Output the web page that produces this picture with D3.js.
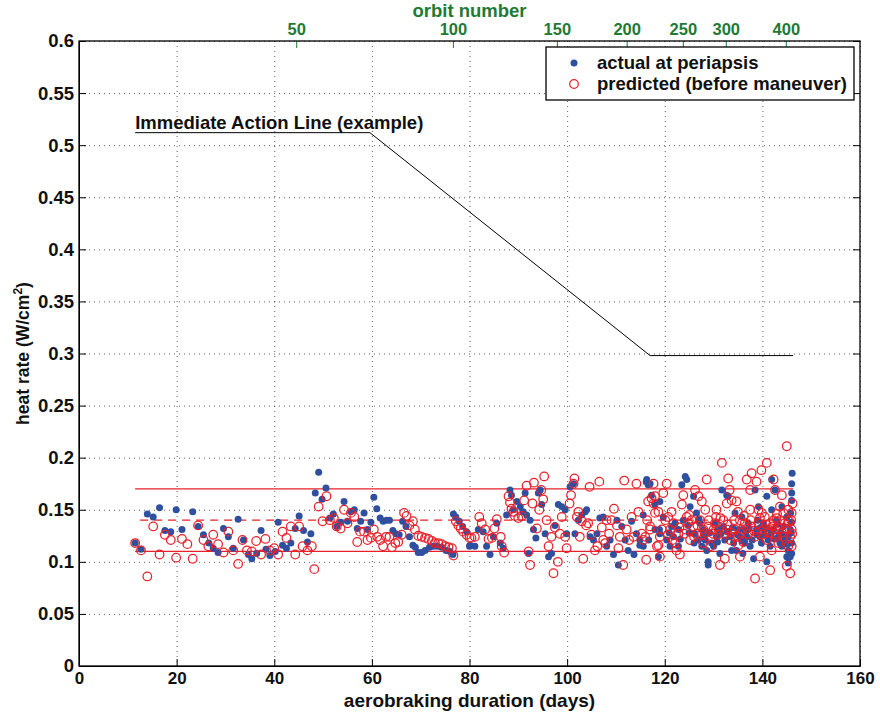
<!DOCTYPE html>
<html>
<head>
<meta charset="utf-8">
<script src="https://cdn.jsdelivr.net/npm/d3@7"></script>
<style>
  html, body { margin: 0; padding: 0; background: #fff; }
  svg text { font-family: "Liberation Sans", Arial, Helvetica, sans-serif; font-weight: bold; }
</style>
</head>
<body>
<svg id="chart" width="880" height="715"></svg>
<script>
// ---------------- DATA ----------------
const xTicks = [0, 20, 40, 60, 80, 100, 120, 140, 160];
const yTicks = [0, 0.05, 0.1, 0.15, 0.2, 0.25, 0.3, 0.35, 0.4, 0.45, 0.5, 0.55, 0.6];
const orbitLabels = ["50", "100", "150", "200", "250", "300", "400"];
const orbitDays = [44.5, 76.6, 97.9, 112.2, 123.7, 132.5, 144.8];

// Immediate action line (example): [day, heat rate]
const actionLine = [[11.5, 0.512], [59.6, 0.512], [117.0, 0.298], [146.3, 0.298]];
// Red reference corridor lines
const corridorStart = 11.5, corridorEnd = 146.3;
const corridorUpper = 0.17, corridorMid = 0.14, corridorLower = 0.11;

// actual at periapsis: [day, heat rate]
const actual = [
 [11.5,0.118],[12.7,0.112],[14.0,0.146],[15.2,0.143],[16.5,0.152],[17.6,0.130],[18.8,0.129],[19.9,0.150],
 [21.1,0.131],[23.3,0.148],[24.4,0.134],[25.5,0.126],[26.6,0.118],[27.5,0.113],[28.5,0.109],[29.6,0.132],
 [30.6,0.124],[31.6,0.113],[32.6,0.141],[33.7,0.121],[34.7,0.107],[35.4,0.103],[36.4,0.108],[37.3,0.130],
 [38.3,0.112],[39.1,0.106],[40.2,0.110],[40.8,0.138],[41.7,0.116],[42.5,0.113],[43.4,0.118],[44.3,0.132],
 [45.1,0.144],[46.0,0.130],[46.8,0.119],[47.5,0.127],[48.4,0.166],[49.1,0.186],[49.8,0.160],[50.6,0.171],
 [51.4,0.142],[52.1,0.146],[52.8,0.134],[53.6,0.138],[54.3,0.158],[55.0,0.139],[55.7,0.148],[56.4,0.150],
 [57.0,0.132],[57.7,0.139],[58.4,0.147],[59.1,0.131],[59.8,0.138],[60.4,0.162],[61.0,0.151],[61.7,0.142],
 [62.3,0.139],[63.0,0.140],[63.6,0.140],[64.3,0.130],[64.9,0.127],[65.6,0.126],[66.3,0.139],[67.0,0.134],
 [67.7,0.124],[68.4,0.116],[68.9,0.114],[69.5,0.109],[70.2,0.109],[70.9,0.111],[71.8,0.114],[72.6,0.115],
 [73.4,0.115],[74.3,0.114],[75.2,0.111],[76.0,0.110],[76.6,0.107],[76.7,0.146],[77.2,0.143],[77.9,0.139],
 [78.6,0.134],[79.4,0.129],[80.0,0.115],[80.1,0.116],[81.1,0.115],[81.8,0.131],[82.8,0.129],[83.5,0.115],
 [84.2,0.107],[84.9,0.124],[85.6,0.137],[86.3,0.118],[86.9,0.113],[87.6,0.145],[88.3,0.169],[88.6,0.164],
 [89.0,0.150],[89.7,0.158],[90.4,0.153],[91.0,0.148],[91.4,0.166],[91.7,0.145],[92.1,0.108],[92.4,0.140],
 [93.1,0.131],[93.6,0.123],[94.1,0.166],[94.5,0.169],[94.8,0.155],[95.5,0.127],[96.2,0.105],[96.8,0.108],
 [97.5,0.135],[98.2,0.155],[98.9,0.153],[99.6,0.150],[99.9,0.127],[100.6,0.172],[101.3,0.175],[101.6,0.127],
 [102.3,0.140],[103.0,0.145],[103.7,0.148],[104.0,0.150],[104.7,0.124],[105.4,0.121],[106.1,0.127],[106.7,0.142],
 [107.4,0.143],[108.1,0.115],[108.8,0.121],[109.5,0.107],[110.2,0.140],[110.5,0.097],[111.2,0.134],[111.9,0.121],
 [112.5,0.111],[113.2,0.139],[113.7,0.107],[114.2,0.127],[114.9,0.121],[115.6,0.145],[116.2,0.177],[116.6,0.174],
 [117.3,0.164],[118.0,0.155],[118.7,0.105],[118.9,0.131],
 [116.3,0.179],[117.0,0.175],[119.0,0.158],[119.7,0.143],[120.4,0.121],[121.1,0.115],[121.8,0.124],[122.8,0.131],
 [123.5,0.174],[124.2,0.182],[124.5,0.179],[125.2,0.153],[125.9,0.163],[126.5,0.147],[127.2,0.137],[127.9,0.131],
 [128.3,0.121],[128.9,0.100],[128.9,0.097],[129.6,0.118],[130.3,0.137],[131.0,0.131],[131.7,0.169],[132.3,0.121],
 [132.7,0.164],[133.0,0.163],[133.7,0.111],[134.4,0.147],[135.1,0.131],[135.8,0.143],[136.4,0.118],[137.1,0.137],
 [138.2,0.103],[138.5,0.169],[139.2,0.153],[139.5,0.124],[140.5,0.131],[140.9,0.100],[141.6,0.115],[141.9,0.179],
 [142.6,0.169],[142.9,0.140],[143.6,0.118],[144.3,0.134],[145.0,0.105],[145.3,0.099],[145.7,0.131],[145.8,0.147],
 [146.0,0.166],[146.0,0.175],[146.1,0.185],[146.0,0.159],[146.0,0.118],[145.3,0.111],[146.0,0.108],
 [114.9,0.116],[115.6,0.115],[116.7,0.121],[118.0,0.131],[121.4,0.134],[122.1,0.137],[123.8,0.140],[124.8,0.135],
 [126.2,0.127],[126.9,0.121],[127.6,0.115],[128.6,0.111],[130.0,0.115],[130.6,0.124],[132.0,0.134],[133.4,0.124],
 [134.1,0.118],[134.7,0.111],[135.4,0.124],[136.1,0.131],[136.8,0.124],[137.5,0.115],[138.8,0.131],[139.8,0.118],
 [140.2,0.137],[141.2,0.121],[142.3,0.131],[143.3,0.124],[144.0,0.115],[144.6,0.121],[145.3,0.124],[145.7,0.105],
 [145.0,0.143],[144.0,0.153],[141.9,0.150],[140.9,0.163],[122.8,0.115],[119.0,0.127],[131.3,0.108],
 [120.9,0.128],[123.2,0.122],[125.0,0.128],[126.0,0.118],[127.0,0.141],[128.0,0.125],[129.2,0.128],[130.8,0.119],
 [131.5,0.127],[132.8,0.129],[133.9,0.133],[134.9,0.126],[135.9,0.120],[136.6,0.129],[137.3,0.132],[137.9,0.121],
 [138.9,0.126],[139.6,0.133],[140.4,0.126],[141.0,0.132],[141.8,0.127],[142.5,0.122],[143.1,0.136],[143.8,0.128],
 [144.5,0.126],[145.1,0.117],[145.9,0.128],[146.0,0.138],[139.0,0.140],[136.0,0.108]
];

// predicted (before maneuver): [day, heat rate]
const predicted = [
 [11.5,0.118],[12.7,0.111],[14.0,0.086],[15.2,0.134],[16.5,0.107],[17.6,0.126],[18.8,0.121],[19.9,0.104],
 [21.1,0.122],[22.2,0.117],[23.3,0.103],[24.4,0.135],[25.5,0.121],[26.5,0.115],[27.5,0.126],[28.5,0.117],
 [29.6,0.109],[30.6,0.129],[31.6,0.111],[32.6,0.098],[33.5,0.121],[34.4,0.111],[35.4,0.110],[36.3,0.120],
 [37.3,0.107],[38.2,0.122],[39.1,0.111],[40.0,0.113],[40.8,0.107],[41.7,0.129],[42.5,0.123],[43.4,0.134],
 [44.3,0.107],[45.1,0.134],[45.8,0.115],[46.8,0.111],[47.7,0.115],[48.2,0.093],[49.1,0.153],[49.9,0.139],
 [50.7,0.163],[51.4,0.140],[52.2,0.142],[52.8,0.134],[53.6,0.132],[54.3,0.150],[55.0,0.137],[55.7,0.147],
 [56.4,0.143],[57.0,0.119],[57.6,0.129],[58.4,0.129],[59.1,0.121],[59.8,0.123],[60.4,0.131],[61.1,0.124],
 [61.7,0.121],[62.3,0.115],[62.9,0.124],[63.6,0.124],[64.1,0.114],[64.8,0.118],[65.4,0.119],[66.1,0.126],
 [66.6,0.147],[67.1,0.144],[67.7,0.135],[68.4,0.139],[68.8,0.131],[69.5,0.125],[70.2,0.124],[70.9,0.123],
 [71.6,0.122],[72.3,0.120],[72.9,0.118],[73.6,0.118],[74.3,0.117],[75.0,0.115],[75.7,0.114],[76.4,0.113],
 [76.7,0.106],[77.2,0.139],[77.7,0.135],[78.2,0.132],[78.7,0.129],[79.4,0.126],[80.0,0.123],[80.4,0.123],
 [81.1,0.124],[82.0,0.143],[82.5,0.137],[83.2,0.131],[83.9,0.122],[84.6,0.123],[85.1,0.132],[85.6,0.141],
 [86.4,0.124],[86.6,0.115],[87.1,0.109],[88.0,0.163],[88.3,0.157],[88.6,0.151],[89.0,0.148],[89.3,0.144],
 [90.0,0.142],[90.7,0.144],[91.2,0.159],[91.7,0.173],[92.1,0.110],[92.4,0.097],[92.9,0.156],[93.2,0.176],
 [93.8,0.132],[94.3,0.150],[94.7,0.169],[95.1,0.160],[95.3,0.182],[95.8,0.140],[96.2,0.115],[96.8,0.124],
 [97.2,0.089],[97.5,0.133],[98.1,0.100],[98.5,0.127],[98.9,0.143],[99.6,0.124],[99.9,0.113],[100.5,0.156],
 [100.8,0.164],[101.3,0.175],[101.5,0.180],[102.0,0.143],[102.3,0.148],[102.6,0.124],[103.0,0.139],[103.3,0.103],
 [103.9,0.135],[104.3,0.137],[104.6,0.172],[105.0,0.126],[105.7,0.111],[106.2,0.115],[106.6,0.177],[107.1,0.133],
 [107.4,0.121],[107.8,0.118],[108.1,0.140],[108.6,0.127],[109.1,0.140],[109.6,0.151],[110.2,0.135],[110.5,0.113],
 [110.8,0.124],[111.5,0.097],[111.7,0.178],[112.2,0.131],[112.7,0.121],[113.2,0.143],[113.6,0.124],[114.2,0.175],
 [114.6,0.148],[115.3,0.127],[115.6,0.121],[116.2,0.102],[116.4,0.140],[116.6,0.158],[117.0,0.131],[117.3,0.161],
 [117.7,0.156],[118.0,0.163],[118.4,0.115],[118.7,0.148],
 [117.7,0.175],[118.7,0.116],[119.0,0.105],[119.7,0.166],[120.4,0.175],[120.7,0.143],[121.4,0.148],[122.1,0.118],
 [122.4,0.111],[123.1,0.107],[123.5,0.155],[123.8,0.164],[124.5,0.143],[125.2,0.121],[125.5,0.140],[126.2,0.169],
 [126.9,0.163],[127.6,0.158],[128.3,0.150],[128.6,0.179],[129.3,0.115],[130.0,0.131],[130.6,0.150],[131.3,0.097],
 [131.7,0.195],[132.3,0.103],[133.0,0.180],[133.3,0.169],[133.7,0.159],[134.1,0.124],[134.7,0.158],[135.1,0.116],
 [135.4,0.105],[136.1,0.119],[136.8,0.179],[137.5,0.169],[137.8,0.185],[138.5,0.084],[138.8,0.177],[139.2,0.150],
 [139.5,0.105],[139.8,0.188],[140.9,0.195],[141.2,0.131],[141.6,0.092],[141.9,0.111],[142.3,0.179],[142.6,0.169],
 [142.9,0.142],[143.3,0.118],[143.6,0.153],[144.0,0.164],[144.3,0.124],[144.6,0.137],[145.0,0.096],[145.0,0.211],
 [145.3,0.115],[145.7,0.089],[146.0,0.147],[146.0,0.131],[146.2,0.156],
 [116.0,0.124],[117.0,0.134],[118.0,0.147],[119.4,0.131],[120.1,0.140],[121.1,0.131],[121.8,0.137],[122.8,0.127],
 [124.2,0.131],[124.8,0.137],[125.9,0.134],[126.5,0.127],[127.2,0.140],[127.9,0.131],[128.9,0.134],[129.6,0.124],
 [130.3,0.137],[131.0,0.131],[132.0,0.140],[132.7,0.131],[133.4,0.121],[134.4,0.131],[135.4,0.140],[135.8,0.131],
 [136.4,0.137],[137.1,0.127],[137.8,0.134],[138.5,0.124],[139.2,0.137],[140.2,0.131],[140.5,0.143],[140.9,0.121],
 [141.6,0.137],[142.3,0.140],[142.6,0.131],[142.9,0.124],[143.6,0.140],[144.3,0.147],[145.0,0.131],[145.7,0.124],
 [146.0,0.115],[145.3,0.150],[132.7,0.156],[137.5,0.150],[127.9,0.118],[119.0,0.124],
 [120.6,0.126],[121.6,0.121],[123.0,0.133],[124.0,0.127],[125.0,0.145],[126.0,0.124],[126.7,0.135],[127.5,0.126],
 [128.4,0.128],[129.0,0.140],[129.9,0.127],[130.8,0.126],[131.4,0.142],[132.2,0.127],[132.9,0.136],[133.6,0.128],
 [134.2,0.140],[134.9,0.125],[135.6,0.128],[136.2,0.144],[136.9,0.132],[137.6,0.140],[138.2,0.130],[138.9,0.128],
 [139.5,0.142],[140.1,0.126],[140.7,0.136],[141.4,0.128],[142.0,0.134],[142.7,0.127],[143.4,0.132],[144.0,0.128],
 [144.7,0.132],[145.4,0.139],[146.1,0.127],[145.9,0.140],[143.0,0.146],[139.9,0.147],[135.0,0.148],[130.5,0.143]
];

// ---------------- CHART ----------------
const svg = d3.select("#chart");
const m = {left: 79, top: 41, right: 20, bottom: 49};
const W = 880 - m.left - m.right, H = 715 - m.top - m.bottom;
const x = d3.scaleLinear().domain([0, 160]).range([0, W]);
const y = d3.scaleLinear().domain([0, 0.6]).range([H, 0]);
const green = "#1e7a34", blue = "#2f4f9f", red = "#e8202a";

const g = svg.append("g").attr("transform", `translate(${m.left},${m.top})`);

// dotted grid
g.append("g").attr("class", "grid")
  .call(d3.axisBottom(x).tickValues(xTicks).tickSize(H).tickFormat(""))
  .call(s => s.select(".domain").remove());
g.append("g").attr("class", "grid")
  .call(d3.axisLeft(y).tickValues(yTicks).tickSize(-W).tickFormat(""))
  .call(s => s.select(".domain").remove());
g.selectAll(".grid line").attr("stroke", "#333").attr("stroke-width", 0.8).attr("stroke-dasharray", "1,4");

// corridor lines
const lineStyle = (sel) => sel.attr("stroke", red).attr("stroke-width", 1.2);
[corridorUpper, corridorLower].forEach(v => {
  g.append("line").attr("x1", x(corridorStart)).attr("x2", x(corridorEnd))
    .attr("y1", y(v)).attr("y2", y(v)).call(lineStyle);
});
g.append("line").attr("x1", x(corridorStart) + 5).attr("x2", x(corridorEnd))
  .attr("y1", y(corridorMid)).attr("y2", y(corridorMid)).call(lineStyle)
  .attr("stroke-dasharray", "8,6");

// action line
g.append("path").datum(actionLine)
  .attr("d", d3.line().x(d => x(d[0])).y(d => y(d[1])))
  .attr("fill", "none").attr("stroke", "#000").attr("stroke-width", 1);
g.append("text").attr("x", x(actionLine[0][0])).attr("y", y(actionLine[0][1]) - 4)
  .attr("font-size", 18.5).attr("fill", "#111").text("Immediate Action Line (example)");

// points
g.append("g").selectAll("circle").data(actual).join("circle")
  .attr("cx", d => x(d[0])).attr("cy", d => y(d[1])).attr("r", 3.5).attr("fill", blue);
g.append("g").selectAll("circle").data(predicted).join("circle")
  .attr("cx", d => x(d[0])).attr("cy", d => y(d[1])).attr("r", 4.3)
  .attr("fill", "none").attr("stroke", red).attr("stroke-width", 1.25);

// axes
const xAxis = g.append("g").attr("transform", `translate(0,${H})`)
  .call(d3.axisBottom(x).tickValues(xTicks).tickSizeInner(-7).tickSizeOuter(0).tickPadding(6).tickFormat(d3.format("d")));
xAxis.selectAll("text").attr("font-size", 17).attr("fill", "#111");
const yAxis = g.append("g")
  .call(d3.axisLeft(y).tickValues(yTicks).tickSizeInner(-7).tickSizeOuter(0).tickPadding(5).tickFormat(d => String(d)));
yAxis.selectAll("text").attr("font-size", 18.5).attr("fill", "#111");
g.append("g").attr("transform", `translate(${W},0)`)
  .call(d3.axisRight(y).tickValues(yTicks).tickSizeInner(-7).tickSizeOuter(0).tickFormat(""))
  .call(s => s.select(".domain").remove());
const topAxis = g.append("g")
  .call(d3.axisTop(x).tickValues(orbitDays).tickSizeInner(-7).tickSizeOuter(0).tickPadding(6)
    .tickFormat((d, i) => orbitLabels[i]));
topAxis.select(".domain").remove();
topAxis.selectAll("line").attr("stroke", green);
topAxis.selectAll("text").attr("font-size", 16.5).attr("fill", green);
g.selectAll(".domain").attr("stroke", "#000");

// frame
g.append("rect").attr("x", 0).attr("y", 0).attr("width", W).attr("height", H)
  .attr("fill", "none").attr("stroke", "#000").attr("stroke-width", 1.3);

// titles
svg.append("text").attr("x", m.left + W / 2).attr("y", 707).attr("text-anchor", "middle")
  .attr("font-size", 19).attr("fill", "#111").text("aerobraking duration (days)");
svg.append("text").attr("x", m.left + W / 2).attr("y", 17).attr("text-anchor", "middle")
  .attr("font-size", 18.5).attr("fill", green).text("orbit number");
const yl = svg.append("text").attr("transform", `translate(29,${m.top + H / 2}) rotate(-90)`)
  .attr("text-anchor", "middle").attr("font-size", 17.5).attr("fill", "#111");
yl.append("tspan").text("heat rate (W/cm");
yl.append("tspan").attr("dy", -7).attr("font-size", 12).text("2");
yl.append("tspan").attr("dy", 7).text(")");

// legend
const lg = svg.append("g").attr("transform", "translate(546,47)");
lg.append("rect").attr("width", 308).attr("height", 53).attr("fill", "#fff")
  .attr("stroke", "#000").attr("stroke-width", 1.3);
lg.append("circle").attr("cx", 28).attr("cy", 16).attr("r", 3.5).attr("fill", blue);
lg.append("circle").attr("cx", 28).attr("cy", 37).attr("r", 4.3).attr("fill", "none")
  .attr("stroke", red).attr("stroke-width", 1.25);
lg.append("text").attr("x", 51).attr("y", 22).attr("font-size", 18.5).attr("fill", "#111").text("actual at periapsis");
lg.append("text").attr("x", 51).attr("y", 43).attr("font-size", 18.5).attr("fill", "#111").text("predicted (before maneuver)");
</script>
</body>
</html>
